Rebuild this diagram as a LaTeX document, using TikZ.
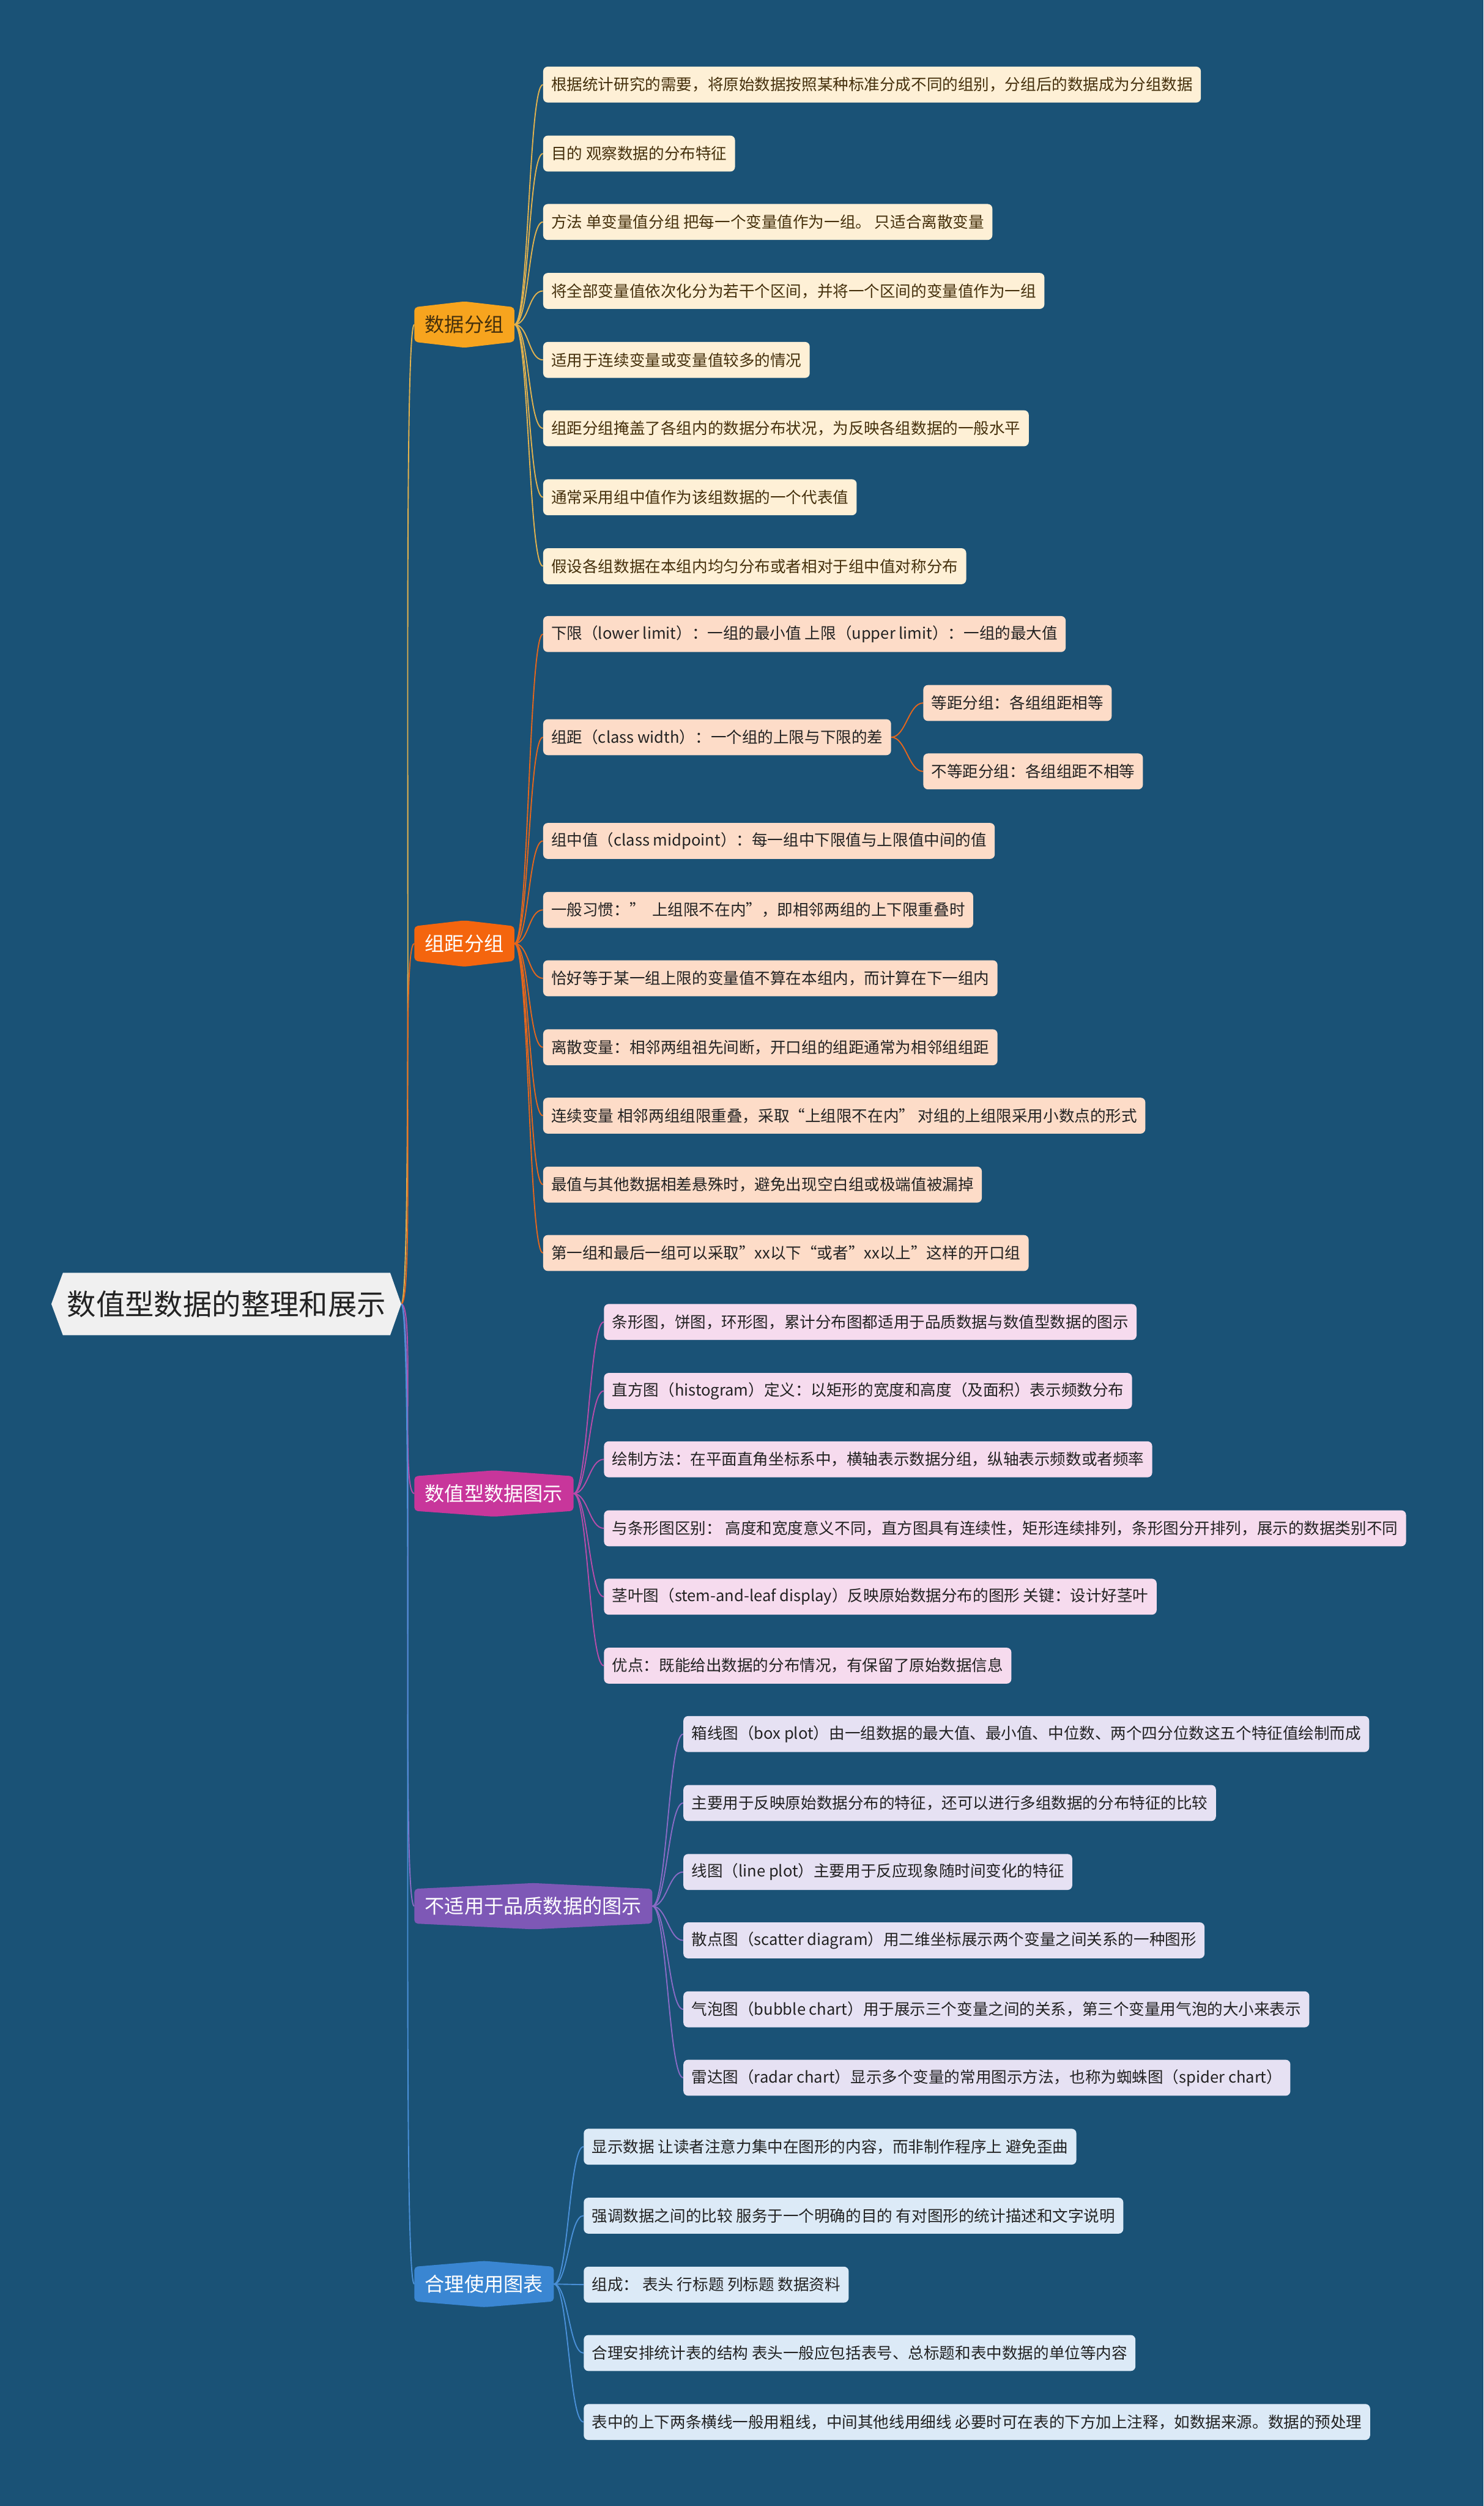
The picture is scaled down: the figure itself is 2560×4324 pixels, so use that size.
\documentclass[tikz,border=0pt]{standalone}
\usepackage{fontspec}
\setmainfont{Noto Sans CJK SC}
\usetikzlibrary{positioning}
\pgfdeclarelayer{back}
\pgfdeclarelayer{bg}
\pgfsetlayers{back,bg,main}
\definecolor{bgc}{HTML}{1A5276}
\definecolor{rootc}{HTML}{F0F0F0}
\definecolor{ca}{HTML}{F7A41E}
\definecolor{cal}{HTML}{E2B24E}
\definecolor{cb}{HTML}{F4650E}
\definecolor{cbl}{HTML}{E5661C}
\definecolor{cc}{HTML}{C8369B}
\definecolor{ccl}{HTML}{B84CAA}
\definecolor{cd}{HTML}{7E58B6}
\definecolor{cdl}{HTML}{8A6BC6}
\definecolor{ce}{HTML}{3A86D2}
\definecolor{cel}{HTML}{4A90D8}
\definecolor{la}{HTML}{FEF0D6}
\definecolor{lb}{HTML}{FDDCC8}
\definecolor{lc}{HTML}{F6DBEE}
\definecolor{ld}{HTML}{E6E1F3}
\definecolor{le}{HTML}{DCEAF7}
\definecolor{ta}{HTML}{45300C}
\definecolor{tx}{HTML}{222222}
\tikzset{
  leaf/.style={anchor=west, rounded corners=4pt, minimum height=31pt, inner xsep=7pt, inner ysep=0pt, font=\fontsize{13.5}{16}\selectfont},
  leafa/.style={leaf, fill=la, text=ta},
  leafb/.style={leaf, fill=lb, text=tx},
  leafc/.style={leaf, fill=lc, text=tx},
  leafd/.style={leaf, fill=ld, text=tx},
  leafe/.style={leaf, fill=le, text=tx},
  branch/.style={anchor=west, minimum height=29.5pt, inner xsep=9pt, inner ysep=0pt, font=\fontsize{17}{20}\selectfont},
  link/.style={line width=1pt},
}
\newcommand\hexfill[2]{\fill[#2, rounded corners=3pt] (#1.north west) -- ([yshift=5pt]#1.north) -- (#1.north east) -- (#1.south east) -- ([yshift=-5pt]#1.south) -- (#1.south west) -- cycle;}
\newcommand\lnk[3]{\draw[link,#1] (#2.east) .. controls +(25,0) and +(-25,0) .. (#3.west);}
\begin{document}
\begin{tikzpicture}[x=0.5pt,y=-0.5pt]
\useasboundingbox (0,0) rectangle (2560,4324);
\begin{pgfonlayer}{back}
\fill[bgc] (0,0) rectangle (2560,4324);
\end{pgfonlayer}

% root
\node[inner xsep=3.5pt, inner ysep=0pt, minimum height=53.5pt, text=tx, font=\fontsize{25}{30}\selectfont] (r) at (391,2250) {数值型数据的整理和展示};
\coordinate (rR) at ([xshift=9.5pt]r.east);

% branches
\node[branch, text=ta] (b1) at (715,560) {数据分组};
\node[branch, text=white] (b2) at (715,1628) {组距分组};
\node[branch, text=white] (b3) at (715,2577) {数值型数据图示};
\node[branch, text=white] (b4) at (715,3289) {不适用于品质数据的图示};
\node[branch, text=white] (b5) at (715,3941) {合理使用图表};

% group 1
\node[leafa] (a1) at (937,146) {根据统计研究的需要，将原始数据按照某种标准分成不同的组别，分组后的数据成为分组数据};
\node[leafa] (a2) at (937,265) {目的 观察数据的分布特征};
\node[leafa] (a3) at (937,383) {方法 单变量值分组 把每一个变量值作为一组。 只适合离散变量};
\node[leafa] (a4) at (937,502) {将全部变量值依次化分为若干个区间，并将一个区间的变量值作为一组};
\node[leafa] (a5) at (937,621) {适用于连续变量或变量值较多的情况};
\node[leafa] (a6) at (937,739) {组距分组掩盖了各组内的数据分布状况，为反映各组数据的一般水平};
\node[leafa] (a7) at (937,858) {通常采用组中值作为该组数据的一个代表值};
\node[leafa] (a8) at (937,977) {假设各组数据在本组内均匀分布或者相对于组中值对称分布};

% group 2
\node[leafb] (c1) at (937,1094) {下限（lower limit）：一组的最小值 上限（upper limit）：一组的最大值};
\node[leafb] (c2) at (937,1272) {组距（class width）：一个组的上限与下限的差};
\node[leafb] (c2a) at (1593,1213) {等距分组：各组组距相等};
\node[leafb] (c2b) at (1593,1331) {不等距分组：各组组距不相等};
\node[leafb] (c3) at (937,1451) {组中值（class midpoint）：每一组中下限值与上限值中间的值};
\node[leafb] (c4) at (937,1570) {一般习惯：”\ \ 上组限不在内”，即相邻两组的上下限重叠时};
\node[leafb] (c5) at (937,1688) {恰好等于某一组上限的变量值不算在本组内，而计算在下一组内};
\node[leafb] (c6) at (937,1807) {离散变量：相邻两组祖先间断，开口组的组距通常为相邻组组距};
\node[leafb] (c7) at (937,1925) {连续变量 相邻两组组限重叠，采取“上组限不在内” 对组的上组限采用小数点的形式};
\node[leafb] (c8) at (937,2044) {最值与其他数据相差悬殊时，避免出现空白组或极端值被漏掉};
\node[leafb] (c9) at (937,2162) {第一组和最后一组可以采取”xx以下“或者”xx以上”这样的开口组};

% group 3
\node[leafc] (d1) at (1042,2281) {条形图，饼图，环形图，累计分布图都适用于品质数据与数值型数据的图示};
\node[leafc] (d2) at (1042,2400) {直方图（histogram）定义：以矩形的宽度和高度（及面积）表示频数分布};
\node[leafc] (d3) at (1042,2518) {绘制方法：在平面直角坐标系中，横轴表示数据分组，纵轴表示频数或者频率};
\node[leafc] (d4) at (1042,2637) {与条形图区别：\ 高度和宽度意义不同，直方图具有连续性，矩形连续排列，条形图分开排列，展示的数据类别不同};
\node[leafc] (d5) at (1042,2755) {茎叶图（stem-and-leaf display）反映原始数据分布的图形 关键：设计好茎叶};
\node[leafc] (d6) at (1042,2874) {优点：既能给出数据的分布情况，有保留了原始数据信息};

% group 4
\node[leafd] (e1) at (1179,2992) {箱线图（box plot）由一组数据的最大值、最小值、中位数、两个四分位数这五个特征值绘制而成};
\node[leafd] (e2) at (1179,3111) {主要用于反映原始数据分布的特征，还可以进行多组数据的分布特征的比较};
\node[leafd] (e3) at (1179,3230) {线图（line plot）主要用于反应现象随时间变化的特征};
\node[leafd] (e4) at (1179,3348) {散点图（scatter diagram）用二维坐标展示两个变量之间关系的一种图形};
\node[leafd] (e5) at (1179,3467) {气泡图（bubble chart）用于展示三个变量之间的关系，第三个变量用气泡的大小来表示};
\node[leafd] (e6) at (1179,3585) {雷达图（radar chart）显示多个变量的常用图示方法，也称为蜘蛛图（spider chart）};

% group 5
\node[leafe] (f1) at (1007,3704) {显示数据 让读者注意力集中在图形的内容，而非制作程序上 避免歪曲};
\node[leafe] (f2) at (1007,3823) {强调数据之间的比较 服务于一个明确的目的 有对图形的统计描述和文字说明};
\node[leafe] (f3) at (1007,3942) {组成： 表头 行标题 列标题 数据资料};
\node[leafe] (f4) at (1007,4060) {合理安排统计表的结构 表头一般应包括表号、总标题和表中数据的单位等内容};
\node[leafe] (f5) at (1007,4179) {表中的上下两条横线一般用粗线，中间其他线用细线 必要时可在表的下方加上注释，如数据来源。数据的预处理};

\begin{pgfonlayer}{bg}
% root to branches
\draw[link,cal] (rR) .. controls +(24,0) and +(-24,0) .. (b1.west);
\draw[link,cbl] (rR) .. controls +(24,0) and +(-24,0) .. (b2.west);
\draw[link,ccl] (rR) .. controls +(24,0) and +(-24,0) .. (b3.west);
\draw[link,cdl] (rR) .. controls +(24,0) and +(-24,0) .. (b4.west);
\draw[link,cel] (rR) .. controls +(24,0) and +(-24,0) .. (b5.west);
% branch to leaves
\foreach \n in {a1,a2,a3,a4,a5,a6,a7,a8} {\lnk{cal}{b1}{\n}}
\foreach \n in {c1,c2,c3,c4,c5,c6,c7,c8,c9} {\lnk{cbl}{b2}{\n}}
\lnk{cbl}{c2}{c2a}
\lnk{cbl}{c2}{c2b}
\foreach \n in {d1,d2,d3,d4,d5,d6} {\lnk{ccl}{b3}{\n}}
\foreach \n in {e1,e2,e3,e4,e5,e6} {\lnk{cdl}{b4}{\n}}
\foreach \n in {f1,f2,f3,f4,f5} {\lnk{cel}{b5}{\n}}
% shapes
\fill[rootc] ([xshift=-10pt]r.west) -- (r.north west) -- (r.north east) -- (rR) -- (r.south east) -- (r.south west) -- cycle;
\hexfill{b1}{ca}
\hexfill{b2}{cb}
\hexfill{b3}{cc}
\hexfill{b4}{cd}
\hexfill{b5}{ce}
\end{pgfonlayer}
\end{tikzpicture}
\end{document}
